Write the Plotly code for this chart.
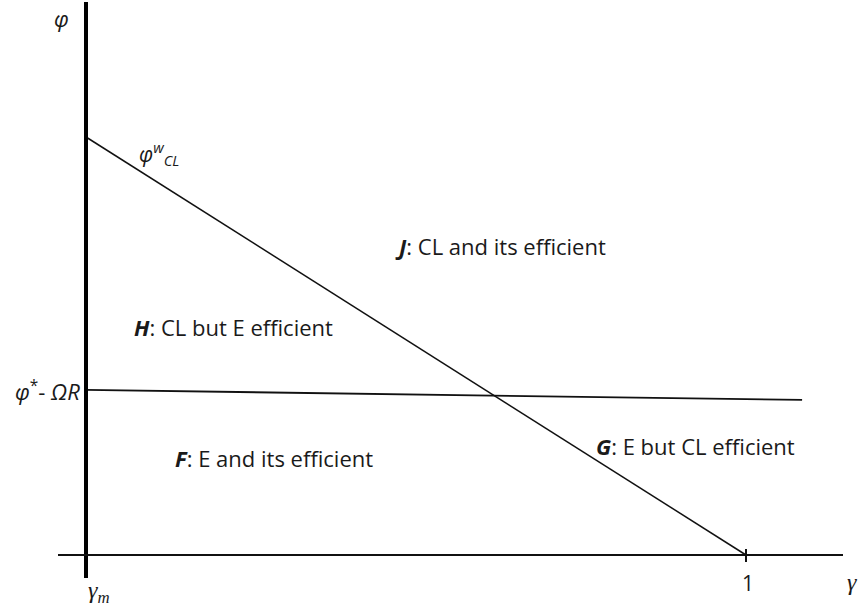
import plotly.graph_objects as go

# data (x: gamma, gamma_m = 0, 1 = one; y: phi)
gamma_w = [0.0, 1.0]
phi_w = [1.0, 0.0]
gamma_thr = [0.0, 1.085]
phi_thr = [0.395, 0.371]

W, H = 865, 607
# pixel -> data helpers (for annotation placement)
X0, XS = 86, 660.0
Y0, YS = 555, 418.0
def dx(px): return (px - X0) / XS
def dy(py): return (Y0 - py) / YS

fig = go.Figure()
fig.add_trace(go.Scatter(x=gamma_w, y=phi_w, mode="lines",
                         line=dict(color="#111", width=1.5), hoverinfo="skip"))
fig.add_trace(go.Scatter(x=gamma_thr, y=phi_thr, mode="lines",
                         line=dict(color="#111", width=1.8), hoverinfo="skip"))

shapes = [
    dict(type="line", x0=0, x1=0, y0=dy(578), y1=dy(2), line=dict(color="black", width=4)),
    dict(type="line", x0=dx(58), x1=dx(843), y0=0, y1=0, line=dict(color="#111", width=2)),
    dict(type="line", x0=1, x1=1, y0=dy(549), y1=dy(562), line=dict(color="#111", width=2)),
]

tc = "#1a1a1a"
F = "Open Sans, Liberation Sans, Arial, sans-serif"
S = "Liberation Serif, Times New Roman, serif"
def ann(px, py, text, size=22, xanchor="left", font=F):
    return dict(x=dx(px), y=dy(py), xref="x", yref="y", text=text, showarrow=False,
                xanchor=xanchor, yanchor="middle", font=dict(family=font, size=size, color=tc))

annotations = [
    ann(52, 18, "<i>φ</i>", 22),
    ann(137, 153, "<i>φ</i><sup><i>w</i></sup><sub><i>CL</i></sub>", 21),
    ann(82, 390, "<i>φ</i><sup>*</sup>- <i>ΩR</i>", 22, xanchor="right"),
    ann(86, 592, "<i>γ<sub>m</sub></i>", 24, font=S),
    ann(748, 583, "1", 21, xanchor="center"),
    ann(845, 582, "<i>γ</i>", 24, font=S),
    ann(393, 246, "<b><i>J</i></b>: CL and its efficient"),
    ann(132, 327, "<b><i>H</i></b>: CL but E efficient"),
    ann(173, 458, "<b><i>F</i></b>: E and its efficient"),
    ann(594, 446, "<b><i>G</i></b>: E but CL efficient"),
]

fig.update_layout(
    width=W, height=H, margin=dict(l=0, r=0, t=0, b=0),
    paper_bgcolor="white", plot_bgcolor="white", showlegend=False,
    xaxis=dict(range=[dx(0), dx(W)], visible=False, fixedrange=True),
    yaxis=dict(range=[dy(H), dy(0)], visible=False, fixedrange=True),
    shapes=shapes, annotations=annotations,
)
fig.write_html("out.html", config={"displayModeBar": False},
               post_script="document.body.style.margin='0';document.body.style.overflow='hidden';")
